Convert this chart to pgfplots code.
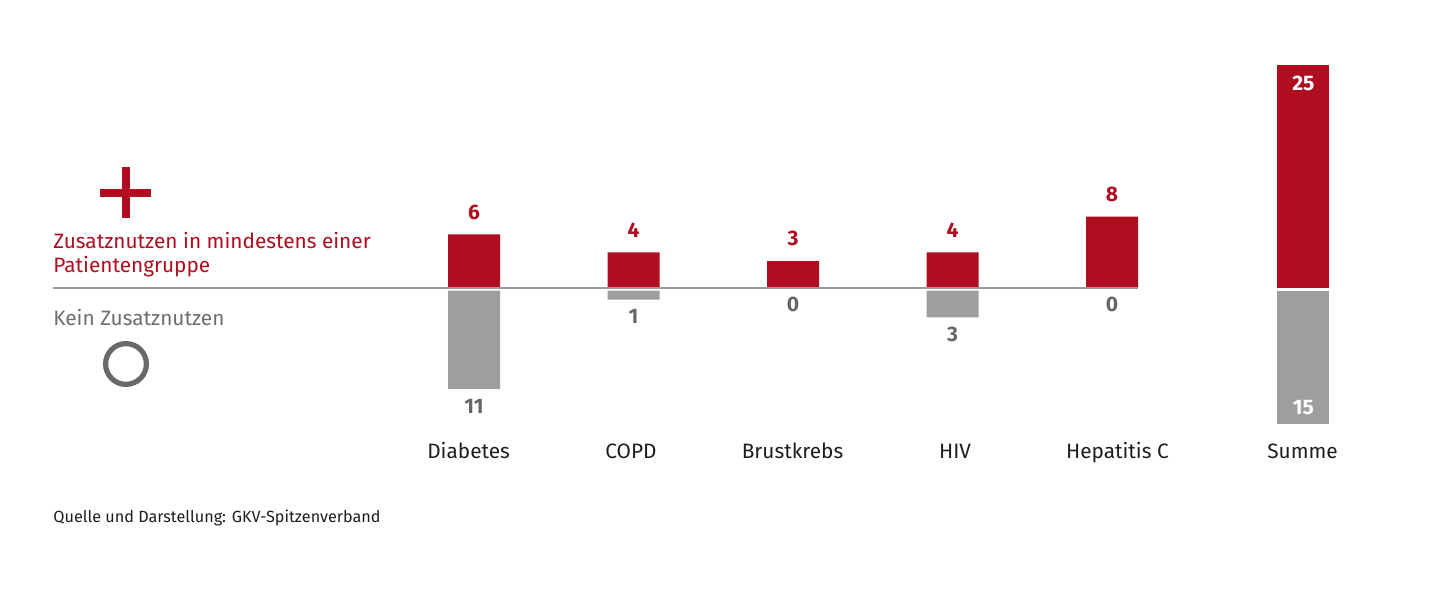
\documentclass[border=0pt]{standalone}
\usepackage{fontspec}
\setmainfont{Fira Sans}
\usepackage{pgfplots}
\pgfplotsset{compat=1.18}
\pgfplotsset{/pgf/number format/assume math mode=true}
\definecolor{gkvred}{HTML}{AF0E20}
\definecolor{gkvgray}{HTML}{9E9E9E}
\definecolor{numgray}{HTML}{666666}
\definecolor{leggray}{HTML}{6E6E6E}
\definecolor{linegray}{HTML}{9A9A9A}
\definecolor{txt}{HTML}{1E1E1E}
\begin{document}
\begin{tikzpicture}[x=0.5pt,y=0.5pt]
\path[use as bounding box, fill=white] (0,0) rectangle (1440,613);
% legend
\draw[gkvred, line width=3.6pt] (100,420) -- (151,420);
\draw[gkvred, line width=3.8pt] (126,446) -- (126,395);
\node[anchor=base west, inner sep=0pt, text=gkvred, font=\fontsize{10.4}{12}\selectfont] at (53,364) {Zusatznutzen in mindestens einer};
\node[anchor=base west, inner sep=0pt, text=gkvred, font=\fontsize{10.4}{12}\selectfont] at (53,340) {Patientengruppe};
\node[anchor=base west, inner sep=0pt, text=leggray, font=\fontsize{10.4}{12}\selectfont] at (53,287) {Kein Zusatznutzen};
\draw[leggray!95!black, line width=2.6pt] (126,249) circle[radius=10.2pt];
\node[anchor=base west, inner sep=0pt, text=txt, font=\fontsize{8.1}{10}\selectfont] at (53,90) {Quelle und Darstellung: GKV-Spitzenverband};
% red bars
\begin{axis}[
  at={(197.125pt,162.5pt)}, anchor=south west,
  x=79.75pt, y=4.46pt,
  xmin=-0.5, xmax=5.7, ymin=0, ymax=26,
  hide axis, clip=false,
  ybar, bar width=26pt, bar shift=0pt,
]
\addplot[fill=gkvred, draw=none,
  nodes near coords,
  nodes near coords style={font=\bfseries\fontsize{10.5}{13}\selectfont, text=gkvred, anchor=south, yshift=4pt}]
  coordinates {(0,6) (1,4) (2,3) (3,4) (4,8)};
\addplot[fill=gkvred, draw=none,
  nodes near coords,
  nodes near coords style={font=\bfseries\fontsize{10.5}{13}\selectfont, text=white, anchor=north, yshift=-2pt}]
  coordinates {(5.2,25)};
\draw[linegray, line width=0.75pt] (axis cs:-2.64,0) -- (axis cs:4.165,0);
\node[anchor=base, inner sep=0pt, text=txt, font=\fontsize{10.4}{13}\selectfont] at (axis cs:-0.034,-19.1) {Diabetes};
\node[anchor=base, inner sep=0pt, text=txt, font=\fontsize{10.4}{13}\selectfont] at (axis cs:0.984,-19.1) {COPD};
\node[anchor=base, inner sep=0pt, text=txt, font=\fontsize{10.4}{13}\selectfont] at (axis cs:1.997,-19.1) {Brustkrebs};
\node[anchor=base, inner sep=0pt, text=txt, font=\fontsize{10.4}{13}\selectfont] at (axis cs:3.016,-19.1) {HIV};
\node[anchor=base, inner sep=0pt, text=txt, font=\fontsize{10.4}{13}\selectfont] at (axis cs:4.034,-19.1) {Hepatitis C};
\node[anchor=base, inner sep=0pt, text=txt, font=\fontsize{10.4}{13}\selectfont] at (axis cs:5.195,-19.1) {Summe};
\end{axis}
% gray bars
\begin{axis}[
  at={(197.125pt,89.8pt)}, anchor=south west,
  x=79.75pt, y=4.46pt,
  xmin=-0.5, xmax=5.7, ymin=-16, ymax=0,
  hide axis, clip=false,
  ybar, bar width=26pt, bar shift=0pt,
  point meta=explicit,
]
\addplot[fill=gkvgray, draw=none,
  nodes near coords,
  nodes near coords style={font=\bfseries\fontsize{10.5}{13}\selectfont, text=numgray, anchor=north, yshift=-1.5pt}]
  coordinates {(0,-11) [11] (1,-1) [1] (3,-3) [3]};
\addplot[draw=none, fill=none,
  nodes near coords,
  nodes near coords style={font=\bfseries\fontsize{10.5}{13}\selectfont, text=numgray, anchor=north, yshift=0.5pt}]
  coordinates {(2,0) [0] (4,0) [0]};
\addplot[fill=gkvgray, draw=none,
  nodes near coords,
  nodes near coords style={font=\bfseries\fontsize{10.5}{13}\selectfont, text=white, anchor=south, yshift=1.4pt}]
  coordinates {(5.2,-15) [15]};
\end{axis}
\end{tikzpicture}
\end{document}
